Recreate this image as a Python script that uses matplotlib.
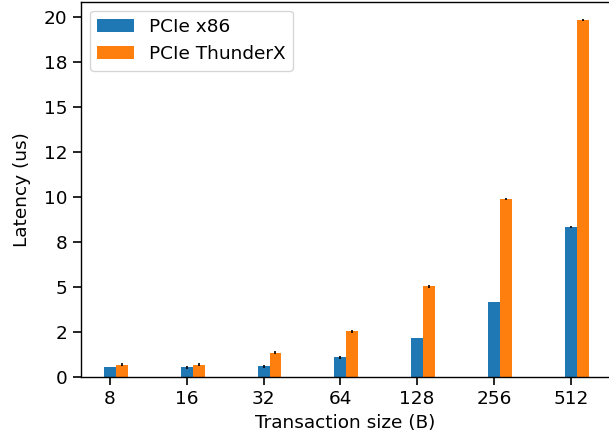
import matplotlib
matplotlib.use("Agg")
import matplotlib.pyplot as plt
import numpy as np
from matplotlib.ticker import MultipleLocator, FormatStrFormatter

sizes = ["8", "16", "32", "64", "128", "256", "512"]
lat_x86 = [0.55, 0.55, 0.60, 1.10, 2.17, 4.17, 8.33]
err_x86 = [0.02, 0.08, 0.08, 0.08, 0.02, 0.02, 0.08]
lat_tx = [0.67, 0.67, 1.35, 2.55, 5.05, 9.89, 19.85]
err_tx = [0.08, 0.08, 0.08, 0.08, 0.08, 0.08, 0.06]

plt.rcParams["font.size"] = 13.3
plt.rcParams["axes.linewidth"] = 1.0

fig = plt.figure(figsize=(6.09, 4.46), dpi=100)
ax = fig.add_axes([80.7 / 609, 69 / 446, 529 / 609, 375.5 / 446])

x = np.arange(len(sizes))
w = 0.155
ekw = dict(ecolor="black", elinewidth=1.2, capsize=0)
ax.bar(x, lat_x86, w, yerr=err_x86, color="#1f77b4", label="PCIe x86", error_kw=ekw)
ax.bar(x + w, lat_tx, w, yerr=err_tx, color="#ff7f0e", label="PCIe ThunderX", error_kw=ekw)

ax.set_xticks(x)
ax.set_xticklabels(sizes)
ax.set_xlim(-0.381, 6.507)
ax.spines["right"].set_visible(False)
ax.yaxis.set_major_locator(MultipleLocator(2.5))
ax.yaxis.set_major_formatter(FormatStrFormatter("%.0f"))
ax.tick_params(length=6, width=1.2)
ax.set_ylim(0, 20.86)
ax.set_xlabel("Transaction size (B)")
ax.set_ylabel("Latency (us)", labelpad=9)
ax.legend(loc="upper left")

fig.savefig("out.png", dpi=100)
